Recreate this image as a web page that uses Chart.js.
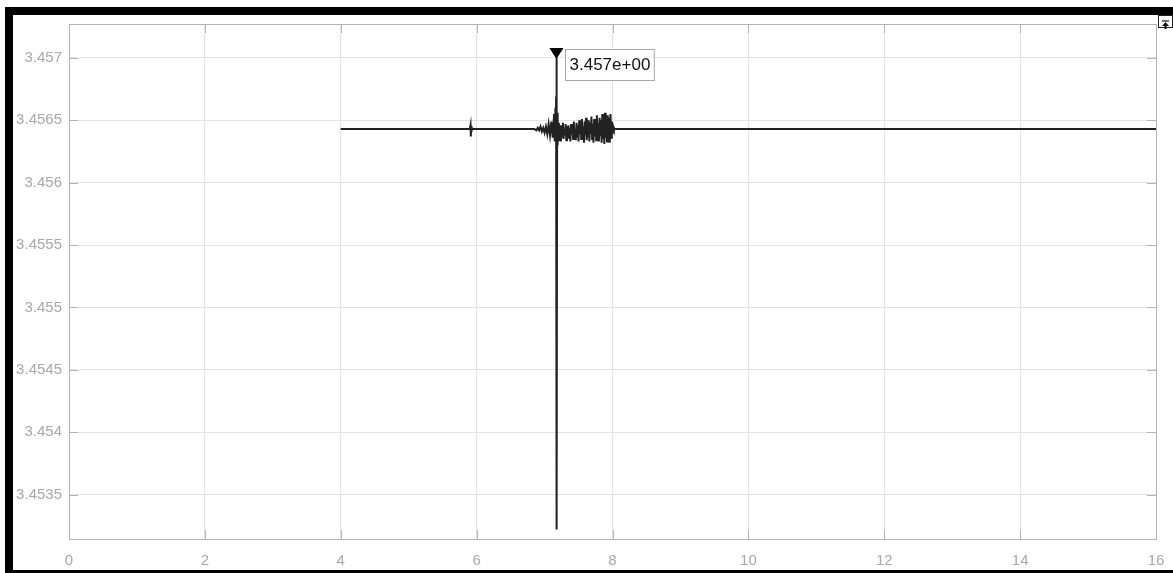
<!DOCTYPE html>
<html>
<head>
<meta charset="utf-8">
<title>Signal trace</title>
<script src="https://cdn.jsdelivr.net/npm/chart.js@4.4.1/dist/chart.umd.min.js"></script>
<style>
  html, body { margin: 0; padding: 0; background: #fff; }
  body { width: 1173px; height: 573px; position: relative; overflow: hidden; font-family: "Liberation Sans", Arial, sans-serif; }
  .frame-top { position: absolute; left: 5px; top: 7px; width: 1168px; height: 8px; background: #000; }
  .frame-left { position: absolute; left: 5px; top: 7px; width: 8px; height: 566px; background: #000; }
  .frame-bottom { position: absolute; left: 5px; top: 570px; width: 1168px; height: 3px; background: #000; }
  #wrap { position: absolute; left: 13px; top: 15px; width: 1160px; height: 555px; }
  .undock { position: absolute; left: 1158px; top: 15px; width: 13px; height: 11px; border: 1px solid #222; background: #fff; }
</style>
</head>
<body>
<div class="frame-top"></div>
<div class="frame-left"></div>
<div class="frame-bottom"></div>
<div id="wrap"><canvas id="c"></canvas></div>
<div class="undock">
  <svg width="13" height="11" viewBox="0 0 13 11">
    <line x1="3" y1="2" x2="10" y2="2" stroke="#111" stroke-width="1.2"/>
    <path d="M6.5 3 L3 7 L5.5 7 L5.5 10 L7.5 10 L7.5 7 L10 7 Z" fill="#111"/>
  </svg>
</div>
<script>
// Axis ranges and tick positions
const xRange = [0, 16];
const yRange = [3.453144, 3.457272];
const xTicks = [0, 2, 4, 6, 8, 10, 12, 14, 16];
const yTicks = [3.4535, 3.454, 3.4545, 3.455, 3.4555, 3.456, 3.4565, 3.457];

// Time stamps (s) of the recorded samples
const time = [
  4.00, 5.90, 5.91, 5.915, 5.92, 5.925, 5.93, 6.80,
  6.85, 6.88, 6.90, 6.92, 6.94, 6.96, 6.98, 7.00, 7.02, 7.04, 7.06, 7.08,
  7.10, 7.12, 7.14, 7.15, 7.16, 7.165, 7.17, 7.175, 7.18, 7.185, 7.19, 7.195,
  7.20, 7.21, 7.22, 7.23, 7.24, 7.25, 7.26, 7.27, 7.28, 7.29,
  7.30, 7.31, 7.32, 7.33, 7.34, 7.35, 7.36, 7.37, 7.38, 7.39,
  7.40, 7.41, 7.42, 7.43, 7.44, 7.45, 7.46, 7.47, 7.48, 7.49,
  7.50, 7.51, 7.52, 7.53, 7.54, 7.55, 7.56, 7.57, 7.58, 7.59,
  7.60, 7.61, 7.62, 7.63, 7.64, 7.65, 7.66, 7.67, 7.68, 7.69,
  7.70, 7.71, 7.72, 7.73, 7.74, 7.75, 7.76, 7.77, 7.78, 7.79,
  7.80, 7.81, 7.82, 7.83, 7.84, 7.85, 7.86, 7.87, 7.88, 7.89,
  7.90, 7.91, 7.92, 7.93, 7.94, 7.95, 7.96, 7.97, 7.98, 7.99,
  8.00, 8.01, 8.02, 16.00
];

// Measured signal at each time stamp
const signal = [
  3.45643, 3.45643, 3.45646, 3.45637, 3.45645, 3.45641, 3.45643, 3.45643,
  3.45643, 3.45642, 3.45644, 3.45642, 3.45645, 3.45641, 3.45644, 3.45640, 3.45645, 3.45639, 3.45647, 3.45638,
  3.45649, 3.45636, 3.45655, 3.45633, 3.45660, 3.45636, 3.45669, 3.45700, 3.45322, 3.45656, 3.45630, 3.45652,
  3.45634, 3.45648, 3.45636, 3.45646, 3.45633, 3.45644, 3.45637, 3.45648, 3.45635, 3.45643,
  3.45638, 3.45647, 3.45634, 3.45645, 3.45640, 3.45646, 3.45636, 3.45644, 3.45633, 3.45647,
  3.45639, 3.45645, 3.45635, 3.45649, 3.45638, 3.45643, 3.45634, 3.45648, 3.45637, 3.45646,
  3.45633, 3.45650, 3.45639, 3.45647, 3.45635, 3.45651, 3.45636, 3.45645, 3.45632, 3.45649,
  3.45638, 3.45652, 3.45634, 3.45646, 3.45637, 3.45650, 3.45633, 3.45648, 3.45639, 3.45653,
  3.45635, 3.45647, 3.45632, 3.45651, 3.45637, 3.45649, 3.45634, 3.45654, 3.45636, 3.45648,
  3.45633, 3.45652, 3.45638, 3.45650, 3.45632, 3.45655, 3.45635, 3.45651, 3.45631, 3.45656,
  3.45636, 3.45650, 3.45633, 3.45654, 3.45637, 3.45652, 3.45632, 3.45655, 3.45636, 3.45649,
  3.45639, 3.45645, 3.45643, 3.45643
];

// Data tip placed on the peak sample
const peakIndex = 27;

function formatTip(v) {
  const [m, e] = v.toExponential(3).split('e');
  const ex = parseInt(e, 10);
  return m + 'e' + (ex < 0 ? '-' : '+') + String(Math.abs(ex)).padStart(2, '0');
}

const points = time.map((t, i) => ({ x: t, y: signal[i] }));

// Box outline, inward tick marks and the data tip
const framePlugin = {
  id: 'frame',
  afterDraw(chart) {
    const { ctx, chartArea: a, scales: { x, y } } = chart;
    ctx.save();
    ctx.lineWidth = 1;
    ctx.strokeStyle = '#b4b4b4';
    ctx.strokeRect(Math.round(a.left) + 0.5, Math.round(a.top) + 0.5,
                   Math.round(a.right - a.left), Math.round(a.bottom - a.top));
    const tl = 9;
    ctx.beginPath();
    xTicks.forEach(v => {
      const px = Math.round(x.getPixelForValue(v)) + 0.5;
      ctx.moveTo(px, a.bottom); ctx.lineTo(px, a.bottom - tl);
      ctx.moveTo(px, a.top); ctx.lineTo(px, a.top + tl);
    });
    yTicks.forEach(v => {
      const py = Math.round(y.getPixelForValue(v)) + 0.5;
      ctx.moveTo(a.left, py); ctx.lineTo(a.left + tl, py);
      ctx.moveTo(a.right, py); ctx.lineTo(a.right - tl, py);
    });
    ctx.stroke();

    // data tip marker and value box
    const px = x.getPixelForValue(time[peakIndex]);
    const py = y.getPixelForValue(signal[peakIndex]);
    ctx.fillStyle = '#000';
    ctx.beginPath();
    ctx.moveTo(px - 7, py - 10);
    ctx.lineTo(px + 7, py - 10);
    ctx.lineTo(px, py + 1);
    ctx.closePath();
    ctx.fill();

    const label = formatTip(signal[peakIndex]);
    ctx.font = '17px "Liberation Sans", Arial, sans-serif';
    const w = ctx.measureText(label).width + 8;
    const bx = Math.round(px + 9) + 0.5, by = Math.round(py - 9) + 0.5;
    ctx.fillStyle = '#fff';
    ctx.fillRect(bx, by, w, 31);
    ctx.strokeStyle = '#a8a8a8';
    ctx.strokeRect(bx, by, w, 31);
    ctx.fillStyle = '#111';
    ctx.textBaseline = 'middle';
    ctx.fillText(label, bx + 4, by + 16);
    ctx.restore();
  }
};

new Chart(document.getElementById('c'), {
  type: 'scatter',
  data: {
    datasets: [{
      data: points,
      showLine: true,
      borderColor: '#222',
      borderWidth: 2,
      pointRadius: 0,
      tension: 0
    }]
  },
  options: {
    responsive: true,
    maintainAspectRatio: false,
    animation: false,
    layout: { padding: { top: 9, right: 17, left: 0, bottom: 0 } },
    plugins: { legend: { display: false }, tooltip: { enabled: false } },
    scales: {
      x: {
        type: 'linear',
        min: xRange[0], max: xRange[1],
        afterBuildTicks: s => { s.ticks = xTicks.map(v => ({ value: v })); },
        afterFit: s => { s.height = 31; s.paddingLeft = 0; s.paddingRight = 0; },
        grid: { color: '#e4e4e4', drawTicks: false },
        border: { display: false },
        ticks: {
          color: '#a8a8a8', padding: 13, maxRotation: 0,
          font: { family: '"Liberation Sans", Arial, sans-serif', size: 15 },
          callback: v => String(v)
        }
      },
      y: {
        type: 'linear',
        min: yRange[0], max: yRange[1],
        afterBuildTicks: s => { s.ticks = yTicks.map(v => ({ value: v })); },
        afterFit: s => { s.width = 56; s.paddingTop = 0; s.paddingBottom = 0; },
        grid: { color: '#e4e4e4', drawTicks: false },
        border: { display: false },
        ticks: {
          color: '#a8a8a8', padding: 7,
          font: { family: '"Liberation Sans", Arial, sans-serif', size: 15 },
          callback: v => String(+(+v).toFixed(4))
        }
      }
    }
  },
  plugins: [framePlugin]
});
</script>
</body>
</html>
